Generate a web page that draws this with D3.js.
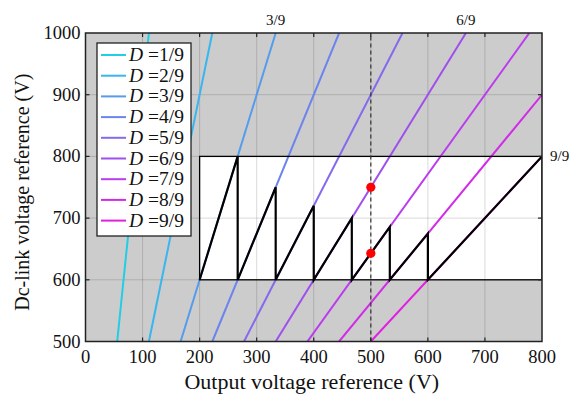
<!DOCTYPE html>
<html>
<head>
<meta charset="utf-8">
<script src="https://cdn.jsdelivr.net/npm/d3@7"></script>
<style>
  html, body { margin: 0; padding: 0; background: #fff; }
  svg { display: block; }
  text { font-family: "Liberation Serif", "DejaVu Serif", serif; fill: #111; }
</style>
</head>
<body>
<svg id="chart" width="572" height="394"></svg>
<script>
// Duty ratios D = k/9 and their line colours
const dutyNumerators = [1, 2, 3, 4, 5, 6, 7, 8, 9];
const dutyColors = ["#22cde6", "#38b6ee", "#559ced", "#6c84ee", "#8569ee", "#9f4fee", "#bb3bee", "#d22be8", "#e01fe0"];
const dutyLabels = ["1/9", "2/9", "3/9", "4/9", "5/9", "6/9", "7/9", "8/9", "9/9"];

// Axis ticks
const xTicks = [0, 100, 200, 300, 400, 500, 600, 700, 800];
const yTicks = [500, 600, 700, 800, 900, 1000];

// Operating window (output V range, dc-link V range)
const windowOut = [200, 800];
const windowDc = [600, 800];

// Dc-link reference trajectory (output V, dc-link V)
const trajectory = [
  [200, 600], [266.7, 800], [266.7, 600], [333.3, 750], [333.3, 600],
  [400, 720], [400, 600], [466.7, 700], [466.7, 600], [533.3, 685.7],
  [533.3, 600], [600, 675], [600, 600], [800, 800]
];

// Highlighted operating points at 500 V output
const markerOut = 500;
const operatingPoints = [[500, 750], [500, 642.9]];

// Duty labels placed on the frame edge
const edgeLabels = [
  { text: "3/9", out: 333.3, dc: 1000, side: "top" },
  { text: "6/9", out: 666.7, dc: 1000, side: "top" },
  { text: "9/9", out: 800, dc: 800, side: "right" }
];

const svg = d3.select("#chart");
const x = d3.scaleLinear().domain([0, 800]).range([85.5, 542]);
const y = d3.scaleLinear().domain([500, 1000]).range([341.5, 33]);
const [x0, x1] = x.range();
const [y0, y1] = y.range();

// title line, sitting mostly above the canvas
svg.append("text")
  .attr("x", 300).attr("y", -4)
  .attr("text-anchor", "middle")
  .attr("font-size", 19)
  .text("Voltage gain ranging over duty (output power, duty ratio)");

svg.append("defs").append("clipPath").attr("id", "plotClip")
  .append("rect").attr("x", x0).attr("y", y1).attr("width", x1 - x0).attr("height", y0 - y1);

const plot = svg.append("g").attr("clip-path", "url(#plotClip)");

// background and operating window
plot.append("rect").attr("x", x0).attr("y", y1).attr("width", x1 - x0).attr("height", y0 - y1).attr("fill", "#cccccc");
plot.append("rect")
  .attr("x", x(windowOut[0])).attr("y", y(windowDc[1]))
  .attr("width", x(windowOut[1]) - x(windowOut[0])).attr("height", y(windowDc[0]) - y(windowDc[1]))
  .attr("fill", "#fff");

// grid
plot.append("g").selectAll("line").data(xTicks.slice(1, -1)).join("line")
  .attr("x1", d => x(d)).attr("x2", d => x(d)).attr("y1", y0).attr("y2", y1)
  .attr("stroke", "#000").attr("stroke-opacity", 0.15).attr("stroke-width", 1);
plot.append("g").selectAll("line").data(yTicks.slice(1, -1)).join("line")
  .attr("y1", d => y(d)).attr("y2", d => y(d)).attr("x1", x0).attr("x2", x1)
  .attr("stroke", "#000").attr("stroke-opacity", 0.15).attr("stroke-width", 1);

// constant-duty lines: Vout = D * Vdc
const line = d3.line().x(d => x(d[0])).y(d => y(d[1]));
plot.append("g").selectAll("path").data(dutyNumerators).join("path")
  .attr("d", k => line([[k / 9 * 500, 500], [k / 9 * 1000, 1000]]))
  .attr("fill", "none")
  .attr("stroke", (k, i) => dutyColors[i])
  .attr("stroke-width", 2);

// window border
plot.append("rect")
  .attr("x", x(windowOut[0])).attr("y", y(windowDc[1]))
  .attr("width", x(windowOut[1]) - x(windowOut[0])).attr("height", y(windowDc[0]) - y(windowDc[1]))
  .attr("fill", "none").attr("stroke", "#000").attr("stroke-width", 1.3);

// trajectory
plot.append("path").attr("d", line(trajectory))
  .attr("fill", "none").attr("stroke", "#000").attr("stroke-width", 2.2)
  .attr("stroke-linejoin", "miter");

// marker line
plot.append("line")
  .attr("x1", x(markerOut)).attr("x2", x(markerOut)).attr("y1", y0).attr("y2", y1)
  .attr("stroke", "#333").attr("stroke-width", 1.2).attr("stroke-dasharray", "4,3");

plot.append("g").selectAll("circle").data(operatingPoints).join("circle")
  .attr("cx", d => x(d[0])).attr("cy", d => y(d[1])).attr("r", 4.6)
  .attr("fill", "#ff0000");

// frame and ticks on all sides
svg.append("rect").attr("x", x0).attr("y", y1).attr("width", x1 - x0).attr("height", y0 - y1)
  .attr("fill", "none").attr("stroke", "#222").attr("stroke-width", 1.5);

const tickLen = 4;
const tickG = svg.append("g").attr("stroke", "#222").attr("stroke-width", 1.2);
xTicks.slice(1, -1).forEach(t => {
  tickG.append("line").attr("x1", x(t)).attr("x2", x(t)).attr("y1", y0).attr("y2", y0 - tickLen);
  tickG.append("line").attr("x1", x(t)).attr("x2", x(t)).attr("y1", y1).attr("y2", y1 + tickLen);
});
yTicks.slice(1, -1).forEach(t => {
  tickG.append("line").attr("y1", y(t)).attr("y2", y(t)).attr("x1", x0).attr("x2", x0 + tickLen);
  tickG.append("line").attr("y1", y(t)).attr("y2", y(t)).attr("x1", x1).attr("x2", x1 - tickLen);
});

// tick labels
svg.append("g").selectAll("text").data(xTicks).join("text")
  .attr("x", d => x(d)).attr("y", y0 + 21)
  .attr("text-anchor", "middle").attr("font-size", 18.5)
  .text(d => d);
svg.append("g").selectAll("text").data(yTicks).join("text")
  .attr("x", x0 - 5).attr("y", d => y(d) + 6)
  .attr("text-anchor", "end").attr("font-size", 18.5)
  .text(d => d);

// axis titles
svg.append("text")
  .attr("x", (x0 + x1) / 2 - 2).attr("y", 389)
  .attr("text-anchor", "middle").attr("font-size", 22)
  .text("Output voltage reference (V)");
svg.append("text")
  .attr("transform", `translate(29,${(y0 + y1) / 2 + 5}) rotate(-90)`)
  .attr("text-anchor", "middle").attr("font-size", 20)
  .text("Dc-link voltage reference (V)");

// edge labels
edgeLabels.forEach(l => {
  const t = svg.append("text").attr("font-size", 15);
  if (l.side === "top") {
    t.attr("x", x(l.out)).attr("y", y1 - 8).attr("text-anchor", "middle");
  } else {
    t.attr("x", x1 + 8).attr("y", y(l.dc) + 5).attr("text-anchor", "start");
  }
  t.text(l.text);
});

// legend
const lg = svg.append("g");
const lgX = 97, lgY = 43, lgW = 94, lgH = 193, rowH = 20.7;
lg.append("rect").attr("x", lgX).attr("y", lgY).attr("width", lgW).attr("height", lgH)
  .attr("fill", "#fff").attr("stroke", "#222").attr("stroke-width", 1.3);
dutyNumerators.forEach((k, i) => {
  const cy = lgY + 12 + i * rowH;
  lg.append("line").attr("x1", lgX + 4).attr("x2", lgX + 29).attr("y1", cy).attr("y2", cy)
    .attr("stroke", dutyColors[i]).attr("stroke-width", 2);
  const t = lg.append("text").attr("x", lgX + 32).attr("y", cy + 6).attr("font-size", 19.5);
  t.append("tspan").attr("font-style", "italic").text("D");
  t.append("tspan").text(" =" + dutyLabels[i]);
});
</script>
</body>
</html>
